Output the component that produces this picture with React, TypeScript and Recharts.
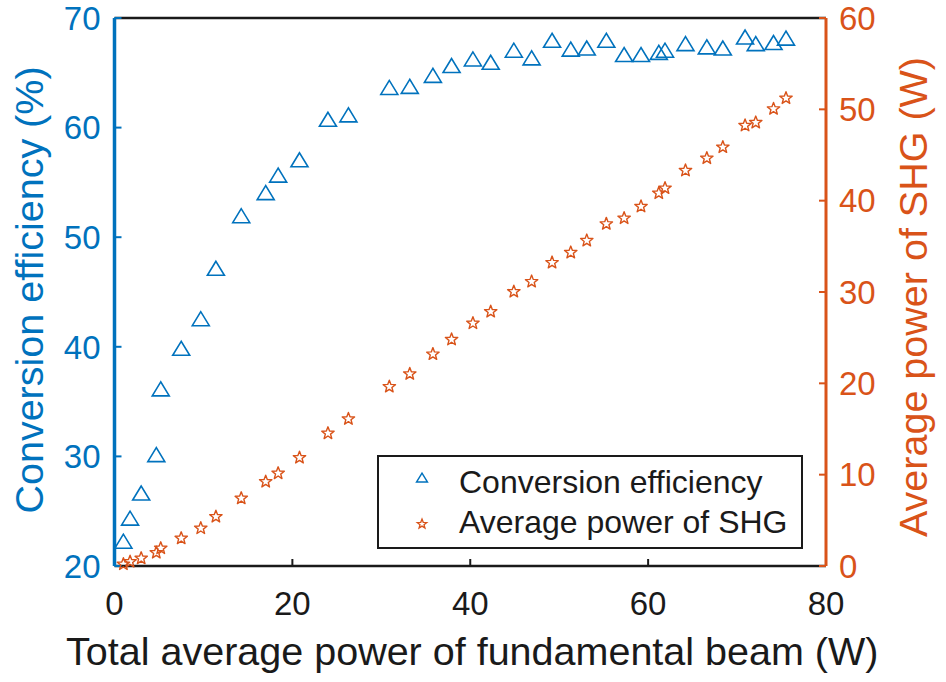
import { Legend, Scatter, ScatterChart, XAxis, YAxis } from 'recharts';

// fundamental beam power (W), shared by both series
const FUNDAMENTAL_POWER = [
    1.0, 1.75, 3.0, 4.7, 5.2, 7.5, 9.7, 11.4, 14.25, 17.0, 18.4, 20.8, 24.0, 26.3, 30.9, 33.2, 35.8, 37.9, 40.3,
    42.3, 44.9, 46.9, 49.2, 51.3, 53.1, 55.3, 57.3, 59.2, 61.2, 61.9, 64.2, 66.6, 68.4, 70.9, 72.1, 74.1, 75.5,
];

// conversion efficiency (%)
const EFFICIENCY = [
    22.2, 24.3, 26.6, 30.1, 36.1, 39.8, 42.5, 47.1, 51.9, 54.0, 55.6, 57.0, 60.7, 61.1, 63.6, 63.7, 64.7, 65.6, 66.2,
    65.9, 67.0, 66.3, 67.9, 67.1, 67.2, 67.9, 66.6, 66.6, 66.8, 67.0, 67.6, 67.3, 67.2, 68.2, 67.6, 67.7, 68.1,
];

// average SHG power (W)
const SHG_POWER = [
    0.2, 0.47, 0.84, 1.46, 1.94, 3.03, 4.13, 5.4, 7.41, 9.23, 10.15, 11.86, 14.53, 16.1, 19.64, 21.03, 23.2, 24.8,
    26.58, 27.85, 30.04, 31.14, 33.22, 34.32, 35.63, 37.46, 38.08, 39.36, 40.82, 41.37, 43.3, 44.65, 45.86, 48.23,
    48.55, 50.05, 51.22,
];

const X_TICKS = [0, 20, 40, 60, 80];
const EFF_TICKS = [20, 30, 40, 50, 60, 70];
const SHG_TICKS = [0, 10, 20, 30, 40, 50, 60];

const SERIES_NAMES = ['Conversion efficiency', 'Average power of SHG'];

const BLUE = '#0072BD';
const ORANGE = '#D95319';
const INK = '#1a1a1a';
const FONT = "'Liberation Sans', Arial, sans-serif";

const effData = FUNDAMENTAL_POWER.map((x, i) => ({ x, y: EFFICIENCY[i] }));
const shgData = FUNDAMENTAL_POWER.map((x, i) => ({ x, y: SHG_POWER[i] }));

function trianglePath(cx: number, cy: number, w: number, h: number) {
    return `M${cx},${cy - h * 0.55} L${cx - w / 2},${cy + h * 0.45} L${cx + w / 2},${cy + h * 0.45} Z`;
}

function starPath(cx: number, cy: number, r: number) {
    const inner = r * 0.42;
    let d = '';
    for (let k = 0; k < 10; k++) {
        const rad = k % 2 === 0 ? r : inner;
        const a = -Math.PI / 2 + (k * Math.PI) / 5;
        d += `${k === 0 ? 'M' : 'L'}${cx + rad * Math.cos(a)},${cy + rad * Math.sin(a)} `;
    }
    return d + 'Z';
}

const TriangleMark = (props: any) => {
    const { cx, cy } = props;
    if (cx == null || cy == null) return null;
    return <path d={trianglePath(cx, cy, 17, 14)} fill="none" stroke={BLUE} strokeWidth={1.6} />;
};

const StarMark = (props: any) => {
    const { cx, cy } = props;
    if (cx == null || cy == null) return null;
    return <path d={starPath(cx, cy, 6.5)} fill="none" stroke={ORANGE} strokeWidth={1.4} strokeLinejoin="round" />;
};

function LegendBox() {
    return (
        <div style={{ width: 426, height: 94, border: `2px solid ${INK}`, background: '#fff', boxSizing: 'border-box' }}>
            <svg width={422} height={90} style={{ display: 'block' }}>
                <path d={trianglePath(43, 21, 11, 9)} fill="none" stroke={BLUE} strokeWidth={1.4} />
                <path d={starPath(43, 67, 5)} fill="none" stroke={ORANGE} strokeWidth={1.3} />
                <text x={80} y={36} fontSize={32} fontFamily={FONT} fill={INK}>
                    {SERIES_NAMES[0]}
                </text>
                <text x={80} y={76} fontSize={32} fontFamily={FONT} fill={INK}>
                    {SERIES_NAMES[1]}
                </text>
            </svg>
        </div>
    );
}

export default function App() {
    return (
        <div style={{ position: 'absolute', left: 0, top: 0, width: 946, height: 682, background: '#fff' }}>
            <ScatterChart width={946} height={682} margin={{ top: 17, right: 40, bottom: 36, left: 34.5 }}>
                <XAxis
                    type="number"
                    dataKey="x"
                    domain={[0, 80]}
                    ticks={X_TICKS}
                    height={80}
                    stroke={INK}
                    strokeWidth={2.5}
                    tickSize={-7}
                    tickMargin={33}
                    tickLine={{ stroke: INK, strokeWidth: 2 }}
                    tick={{ fill: INK, fontSize: 33, fontFamily: FONT }}
                    label={{
                        content: ({ viewBox }: any) => (
                            <text
                                x={viewBox.x + viewBox.width / 2 + 2}
                                y={665}
                                textAnchor="middle"
                                fontSize={39.5}
                                fontFamily={FONT}
                                fill={INK}
                            >
                                Total average power of fundamental beam (W)
                            </text>
                        ),
                    }}
                />
                <XAxis
                    xAxisId="top"
                    orientation="top"
                    type="number"
                    dataKey="x"
                    domain={[0, 80]}
                    ticks={X_TICKS}
                    height={1}
                    stroke={INK}
                    strokeWidth={2.5}
                    tickSize={-7}
                    tickLine={{ stroke: INK, strokeWidth: 2 }}
                    tick={false}
                />
                <YAxis
                    yAxisId="eff"
                    type="number"
                    dataKey="y"
                    domain={[20, 70]}
                    ticks={EFF_TICKS}
                    width={80}
                    stroke={BLUE}
                    strokeWidth={3.5}
                    tickSize={-7}
                    tickMargin={21}
                    tickLine={{ stroke: BLUE, strokeWidth: 2 }}
                    tick={{ fill: BLUE, fontSize: 33, fontFamily: FONT }}
                    label={{
                        content: ({ viewBox }: any) => (
                            <text
                                x={43}
                                y={290}
                                transform="rotate(-90, 43, 290)"
                                textAnchor="middle"
                                fontSize={39.5}
                                fontFamily={FONT}
                                fill={BLUE}
                            >
                                Conversion efficiency (%)
                            </text>
                        ),
                    }}
                />
                <YAxis
                    yAxisId="shg"
                    orientation="right"
                    type="number"
                    dataKey="y"
                    domain={[0, 60]}
                    ticks={SHG_TICKS}
                    width={80}
                    stroke={ORANGE}
                    strokeWidth={3}
                    tickSize={-7}
                    tickMargin={20}
                    tickLine={{ stroke: ORANGE, strokeWidth: 2 }}
                    tick={{ fill: ORANGE, fontSize: 33, fontFamily: FONT }}
                    label={{
                        content: () => (
                            <text
                                x={927}
                                y={297}
                                transform="rotate(-90, 927, 297)"
                                textAnchor="middle"
                                fontSize={39.5}
                                fontFamily={FONT}
                                fill={ORANGE}
                            >
                                Average power of SHG (W)
                            </text>
                        ),
                    }}
                />
                <Scatter
                    name={SERIES_NAMES[0]}
                    data={effData}
                    yAxisId="eff"
                    shape={TriangleMark}
                    isAnimationActive={false}
                />
                <Scatter
                    name={SERIES_NAMES[1]}
                    data={shgData}
                    yAxisId="shg"
                    shape={StarMark}
                    isAnimationActive={false}
                />
                <Legend
                    layout="vertical"
                    align="center"
                    verticalAlign="middle"
                    content={() => <LegendBox />}
                    wrapperStyle={{ left: 377, top: 455, width: 426, height: 94 }}
                />
            </ScatterChart>
        </div>
    );
}
